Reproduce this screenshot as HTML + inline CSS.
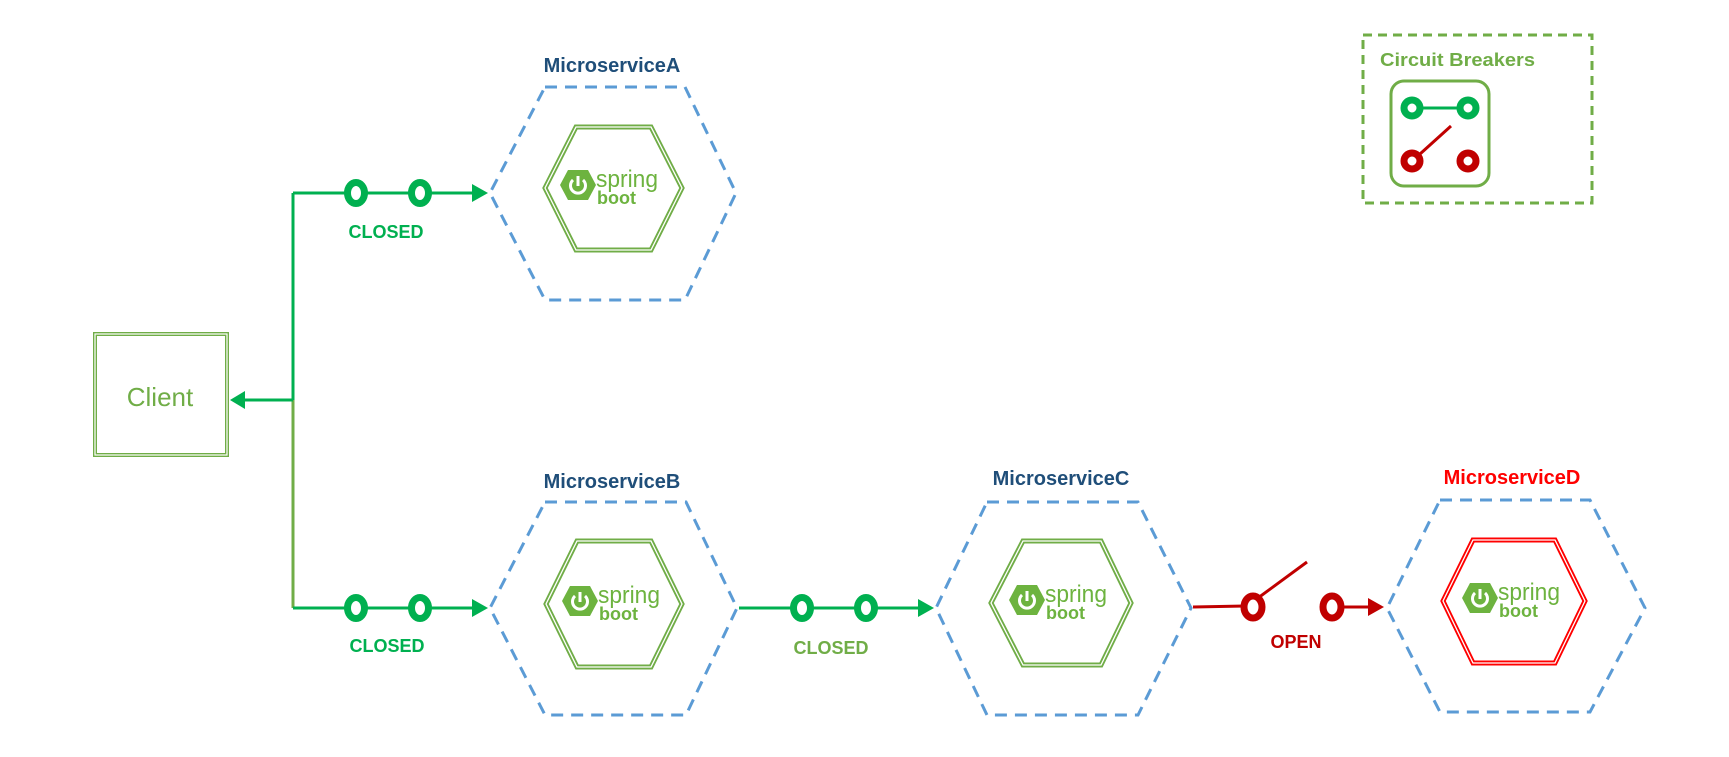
<!DOCTYPE html>
<html><head><meta charset="utf-8"><style>html,body{margin:0;padding:0;background:#fff}svg{display:block}</style></head>
<body>
<svg width="1729" height="757" viewBox="0 0 1729 757" xmlns="http://www.w3.org/2000/svg" font-family="Liberation Sans, sans-serif">
<defs>
<g id="spring">
  <polygon points="-10,-15 10,-15 18,0 10,15 -10,15 -18,0" fill="#6db33f"/>
  <path d="M-5,-5 A7.5,7.5 0 1 0 5,-5" fill="none" stroke="#fff" stroke-width="3"/>
  <line x1="0" y1="-9" x2="0" y2="1" stroke="#fff" stroke-width="3"/>
  <text x="18" y="2" font-size="24" fill="#6db33f" textLength="62" lengthAdjust="spacingAndGlyphs">spring</text>
  <text x="19" y="19" font-size="18" font-weight="bold" fill="#6db33f">boot</text>
</g>
</defs>
<!-- Client -->
<rect x="95" y="334" width="132" height="121" fill="none" stroke="#70ad47" stroke-width="4"/>
<rect x="95" y="334" width="132" height="121" fill="none" stroke="#fff" stroke-width="1.2"/>
<text x="160" y="406" font-size="26" fill="#70ad47" text-anchor="middle">Client</text>
<!-- connectors -->
<line x1="293" y1="193" x2="293" y2="400" stroke="#00b050" stroke-width="3"/>
<line x1="293" y1="400" x2="293" y2="608" stroke="#70ad47" stroke-width="3"/>
<line x1="293" y1="193" x2="474" y2="193" stroke="#00b050" stroke-width="3"/>
<polygon points="472,184 488,193 472,202" fill="#00b050"/>
<line x1="293" y1="400" x2="245" y2="400" stroke="#00b050" stroke-width="3"/>
<polygon points="230,400 245,391 245,409" fill="#00b050"/>
<line x1="293" y1="608" x2="474" y2="608" stroke="#00b050" stroke-width="3"/>
<polygon points="472,599 488,608 472,617" fill="#00b050"/>
<line x1="739" y1="608" x2="920" y2="608" stroke="#00b050" stroke-width="3"/>
<polygon points="918,599 934,608 918,617" fill="#00b050"/>
<g fill="#fff" stroke="#00b050" stroke-width="7">
<ellipse cx="356" cy="193" rx="8.5" ry="10.5"/><ellipse cx="420" cy="193" rx="8.5" ry="10.5"/>
<ellipse cx="356" cy="608" rx="8.5" ry="10.5"/><ellipse cx="420" cy="608" rx="8.5" ry="10.5"/>
<ellipse cx="802" cy="608" rx="8.5" ry="10.5"/><ellipse cx="866" cy="608" rx="8.5" ry="10.5"/>
</g>
<g font-size="18" font-weight="bold" text-anchor="middle">
<text x="386" y="238" fill="#00b050">CLOSED</text>
<text x="387" y="652" fill="#00b050">CLOSED</text>
<text x="831" y="654" fill="#70ad47">CLOSED</text>
<text x="1296" y="648" fill="#c00000">OPEN</text>
</g>
<!-- open switch -->
<line x1="1193" y1="607" x2="1245" y2="606" stroke="#c00000" stroke-width="3"/>
<line x1="1258" y1="598" x2="1307" y2="562" stroke="#c00000" stroke-width="3"/>
<line x1="1340" y1="607" x2="1370" y2="607" stroke="#c00000" stroke-width="3"/>
<polygon points="1368,598 1384,607 1368,616" fill="#c00000"/>
<g fill="#fff" stroke="#c00000" stroke-width="7">
<ellipse cx="1253" cy="607" rx="9" ry="11"/><ellipse cx="1332" cy="607" rx="9" ry="11"/>
</g>
<!-- hexes -->
<g fill="none" stroke="#5b9bd5" stroke-width="3" stroke-dasharray="12,8">
<polygon points="545,87 685,87 736,193 685,300 545,300 490,193"/>
<polygon points="545,502 686,502 737,608 686,715 545,715 490,608"/>
<polygon points="987,502 1138,502 1191,608 1138,715 987,715 936,608"/>
<polygon points="1440,500 1590,500 1645,608 1590,712 1440,712 1387,608"/>
</g>
<g fill="none">
<polygon points="576,127 651,127 682,188 651,250 576,250 545,188" stroke="#70ad47" stroke-width="5"/>
<polygon points="576,127 651,127 682,188 651,250 576,250 545,188" stroke="#fff" stroke-width="1.3"/>
<polygon points="577,541 651,541 682,604 651,667 577,667 546,604" stroke="#70ad47" stroke-width="5"/>
<polygon points="577,541 651,541 682,604 651,667 577,667 546,604" stroke="#fff" stroke-width="1.3"/>
<polygon points="1023,541 1101,541 1131,603 1101,665 1023,665 991,603" stroke="#70ad47" stroke-width="5"/>
<polygon points="1023,541 1101,541 1131,603 1101,665 1023,665 991,603" stroke="#fff" stroke-width="1.3"/>
<polygon points="1473,540 1555,540 1585,601 1555,663 1473,663 1443,601" stroke="#ff0000" stroke-width="5"/>
<polygon points="1473,540 1555,540 1585,601 1555,663 1473,663 1443,601" stroke="#fff" stroke-width="1.3"/>
</g>
<use href="#spring" x="578" y="185"/>
<use href="#spring" x="580" y="601"/>
<use href="#spring" x="1027" y="600"/>
<use href="#spring" x="1480" y="598"/>
<g font-size="20" font-weight="bold" text-anchor="middle">
<text x="612" y="72" fill="#1f4e79">MicroserviceA</text>
<text x="612" y="488" fill="#1f4e79">MicroserviceB</text>
<text x="1061" y="485" fill="#1f4e79">MicroserviceC</text>
<text x="1512" y="484" fill="#ff0000">MicroserviceD</text>
</g>
<!-- legend -->
<rect x="1363" y="35" width="229" height="168" fill="none" stroke="#70ad47" stroke-width="3" stroke-dasharray="9,6"/>
<text x="1380" y="66" font-size="18" font-weight="bold" fill="#70ad47" textLength="155" lengthAdjust="spacingAndGlyphs">Circuit Breakers</text>
<rect x="1391" y="81" width="98" height="105" rx="13" fill="none" stroke="#70ad47" stroke-width="3"/>
<line x1="1412" y1="108" x2="1468" y2="108" stroke="#00b050" stroke-width="3"/>
<line x1="1420" y1="154" x2="1451" y2="126" stroke="#c00000" stroke-width="3"/>
<g fill="#fff" stroke-width="7">
<circle cx="1412" cy="108" r="8" stroke="#00b050"/><circle cx="1468" cy="108" r="8" stroke="#00b050"/>
<circle cx="1412" cy="161" r="8" stroke="#c00000"/><circle cx="1468" cy="161" r="8" stroke="#c00000"/>
</g>
</svg>
</body></html>
